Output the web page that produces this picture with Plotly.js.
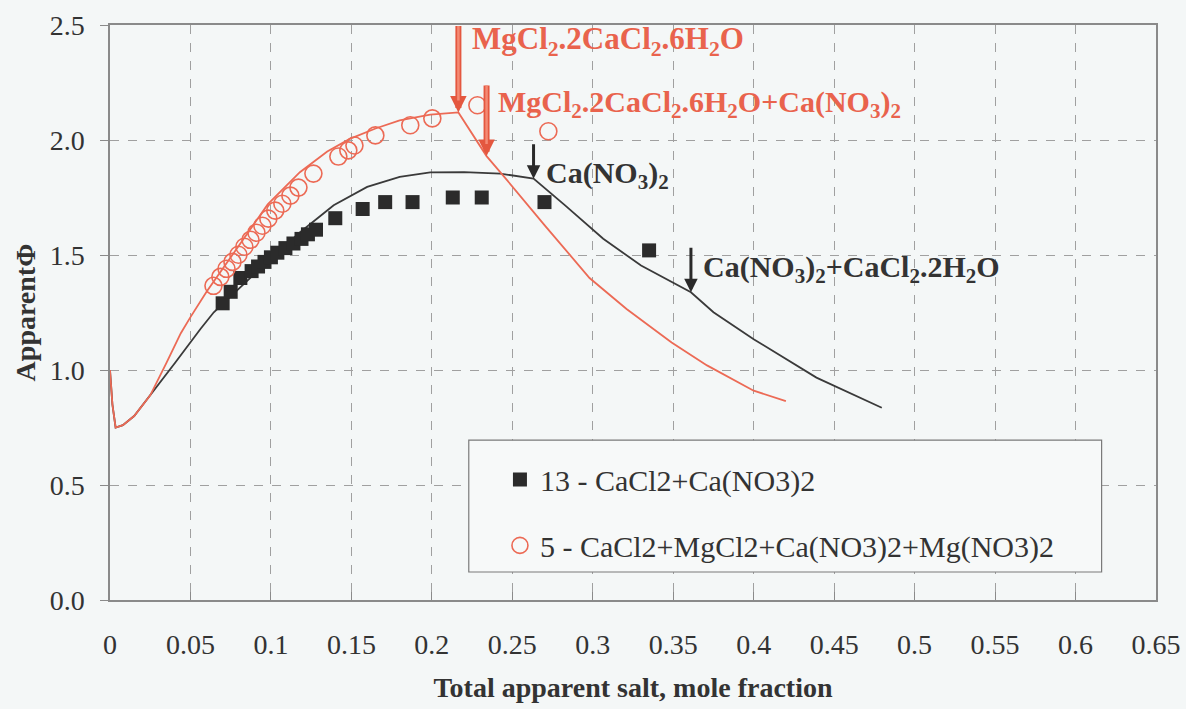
<!DOCTYPE html>
<html>
<head>
<meta charset="utf-8">
<script src="https://cdn.plot.ly/plotly-3.0.1.min.js"></script>
</head>
<body style="margin:0;padding:0;background:#f4f7f7;">
<div id="chart" style="width:1186px;height:709px;"></div>
<script>
// Measured series: system 13 (black squares)
const sys13X = [0.070,0.075,0.081,0.088,0.092,0.096,0.100,0.104,0.109,0.114,0.119,0.123,0.128,0.140,0.157,0.171,0.188,0.213,0.231,0.270,0.335];
const sys13Y = [1.29,1.34,1.40,1.43,1.45,1.47,1.49,1.51,1.53,1.55,1.57,1.59,1.61,1.66,1.70,1.73,1.73,1.75,1.75,1.73,1.52];
// Measured series: system 5 (red circles)
const sys5X = [0.0643,0.0686,0.0724,0.0761,0.0798,0.0835,0.0873,0.0910,0.0947,0.0984,0.1027,0.1071,0.1121,0.1171,0.1264,0.1419,0.1481,0.1519,0.1649,0.1866,0.2003,0.2283,0.2724];
const sys5Y = [1.366,1.405,1.440,1.470,1.501,1.536,1.566,1.597,1.627,1.658,1.693,1.723,1.758,1.793,1.854,1.928,1.955,1.976,2.020,2.064,2.094,2.151,2.038];
// Model curve for system 5 (red line)
const model5X = [0,0.0015,0.0035,0.008,0.015,0.025,0.035,0.044,0.050,0.060,0.077,0.098,0.118,0.135,0.149,0.165,0.180,0.199,0.2165,0.234,0.245,0.270,0.298,0.321,0.349,0.371,0.400,0.420];
const model5Y = [1.00,0.85,0.75,0.76,0.80,0.89,1.03,1.16,1.23,1.34,1.51,1.72,1.86,1.95,2.005,2.05,2.085,2.11,2.12,1.93,1.84,1.63,1.40,1.265,1.12,1.02,0.91,0.865];
// Model curve for system 13 (black line)
const model13X = [0,0.0015,0.0035,0.008,0.015,0.025,0.0407,0.0562,0.0645,0.0976,0.1183,0.139,0.1598,0.180,0.199,0.220,0.2425,0.2632,0.2828,0.3065,0.330,0.361,0.375,0.400,0.412,0.439,0.4796];
const model13Y = [1.00,0.85,0.75,0.76,0.80,0.89,1.034,1.178,1.251,1.469,1.600,1.716,1.796,1.840,1.859,1.860,1.854,1.832,1.716,1.571,1.454,1.338,1.251,1.134,1.083,0.967,0.836];
// Break points marked by arrows (indices into model arrays)
const redBreaks = [18, 19];
const blackBreaks = [17, 21];
const redLabels = ["MgCl<sub>2</sub>.2CaCl<sub>2</sub>.6H<sub>2</sub>O", "MgCl<sub>2</sub>.2CaCl<sub>2</sub>.6H<sub>2</sub>O+Ca(NO<sub>3</sub>)<sub>2</sub>"];
const blackLabels = ["Ca(NO<sub>3</sub>)<sub>2</sub>", "Ca(NO<sub>3</sub>)<sub>2</sub>+CaCl<sub>2</sub>.2H<sub>2</sub>O"];
const xTicks = [0,0.05,0.1,0.15,0.2,0.25,0.3,0.35,0.4,0.45,0.5,0.55,0.6,0.65];
const xTickText = ["0","0.05","0.1","0.15","0.2","0.25","0.3","0.35","0.4","0.45","0.5","0.55","0.6","0.65"];
const yTicks = [0,0.5,1,1.5,2,2.5];
const yTickText = ["0.0","0.5","1.0","1.5","2.0","2.5"];

const RED = '#ec6a55';
const DARK = '#2b2b2b';
const SERIF = 'Liberation Serif';

const traces = [
  {x: model13X, y: model13Y, mode:'lines', line:{color:'#3a3a3a', width:1.8}, showlegend:false, hoverinfo:'skip'},
  {x: model5X, y: model5Y, mode:'lines', line:{color:RED, width:1.8}, showlegend:false, hoverinfo:'skip'},
  {x: sys13X, y: sys13Y, mode:'markers', name:'13 - CaCl2+Ca(NO3)2', legendgroup:'a',
   marker:{symbol:'square', size:14, color:DARK}},
  {x: sys5X, y: sys5Y, mode:'markers', name:'5 - CaCl2+MgCl2+Ca(NO3)2+Mg(NO3)2', legendgroup:'b',
   marker:{symbol:'circle-open', size:17, color:RED, line:{width:1.6, color:RED}}}
];

const annotations = [];
const redLens = [-88, -72];
redBreaks.forEach((idx, i) => {
  annotations.push({x: model5X[idx], y: model5Y[idx], xref:'x', yref:'y', ax:0, ay: redLens[i],
    showarrow:true, arrowhead:2, arrowsize:0.55, arrowwidth:6, arrowcolor:'#e4573f', text:''});
  annotations.push({x: model5X[idx], y: model5Y[idx], xref:'x', yref:'y', ax:0, ay: redLens[i],
    showarrow:true, arrowhead:0, arrowwidth:2.5, arrowcolor:'#f48a74', text:'', standoff:12});
});
annotations.push({x: model5X[redBreaks[0]], y: model5Y[redBreaks[0]], xref:'x', yref:'y', xshift:12, yshift:71,
  showarrow:false, xanchor:'left', yanchor:'middle', text: redLabels[0], font:{family:SERIF, size:31, color:'#e9634d', weight:'bold'}});
annotations.push({x: model5X[redBreaks[1]], y: model5Y[redBreaks[1]], xref:'x', yref:'y', xshift:9, yshift:52,
  showarrow:false, xanchor:'left', yanchor:'middle', text: redLabels[1], font:{family:SERIF, size:30, color:'#e9634d', weight:'bold'}});
const blackLens = [-36, -46];
blackBreaks.forEach((idx, i) => {
  annotations.push({x: model13X[idx], y: model13Y[idx], xref:'x', yref:'y', ax:0, ay: blackLens[i],
    showarrow:true, arrowhead:2, arrowsize:0.9, arrowwidth:3, arrowcolor:'#2a2a2a', text:''});
});
annotations.push({x: model13X[blackBreaks[0]], y: model13Y[blackBreaks[0]], xref:'x', yref:'y', xshift:10, yshift:4,
  showarrow:false, xanchor:'left', yanchor:'middle', text: blackLabels[0], font:{family:SERIF, size:30, color:'#333', weight:'bold'}});
annotations.push({x: model13X[blackBreaks[1]], y: model13Y[blackBreaks[1]], xref:'x', yref:'y', xshift:10, yshift:23,
  showarrow:false, xanchor:'left', yanchor:'middle', text: blackLabels[1], font:{family:SERIF, size:30, color:'#333', weight:'bold'}});

const layout = {
  width:1186, height:709,
  margin:{l:110, r:30, t:25, b:109},
  paper_bgcolor:'#f4f7f7', plot_bgcolor:'#f4f7f7',
  font:{family:SERIF, size:28, color:'#333'},
  xaxis:{range:[0,0.65], tickmode:'array', tickvals:xTicks, ticktext:xTickText,
    showgrid:true, gridcolor:'#a0a0a0', griddash:'dash', gridwidth:1,
    showline:true, linecolor:'#8a8a8a', linewidth:1.5, mirror:true,
    ticks:'inside', ticklen:8, tickcolor:'#8a8a8a', ticklabelstandoff:19,
    zeroline:false, tickfont:{family:SERIF, size:28, color:'#333'},
    title:{text:'Total apparent salt, mole fraction', font:{family:SERIF, size:28, color:'#333', weight:'bold'}, standoff:18}},
  yaxis:{range:[0,2.5], tickmode:'array', tickvals:yTicks, ticktext:yTickText,
    showgrid:true, gridcolor:'#a0a0a0', griddash:'dash', gridwidth:1,
    showline:true, linecolor:'#8a8a8a', linewidth:1.5, mirror:true,
    ticks:'outside', ticklen:8, tickcolor:'#8a8a8a', ticklabelstandoff:10,
    zeroline:false, tickfont:{family:SERIF, size:28, color:'#333'},
    title:{text:'ApparentΦ', font:{family:SERIF, size:28, color:'#333', weight:'bold'}, standoff:6}},
  showlegend:true,
  legend:{x:0.3728, y:0.255, xanchor:'left', yanchor:'top', bgcolor:'rgba(0,0,0,0)', borderwidth:0,
    traceorder:'grouped', tracegroupgap:24, font:{family:SERIF, size:30, color:'#333'}},
  shapes:[{type:'rect', xref:'paper', yref:'paper', x0:0.343, x1:0.948, y0:0.0487, y1:0.278,
    fillcolor:'#f7f9f9', line:{color:'#7a7a7a', width:1.2}, layer:'above'}],
  annotations: annotations
};

Plotly.newPlot('chart', traces, layout, {displayModeBar:false});
</script>
</body>
</html>
